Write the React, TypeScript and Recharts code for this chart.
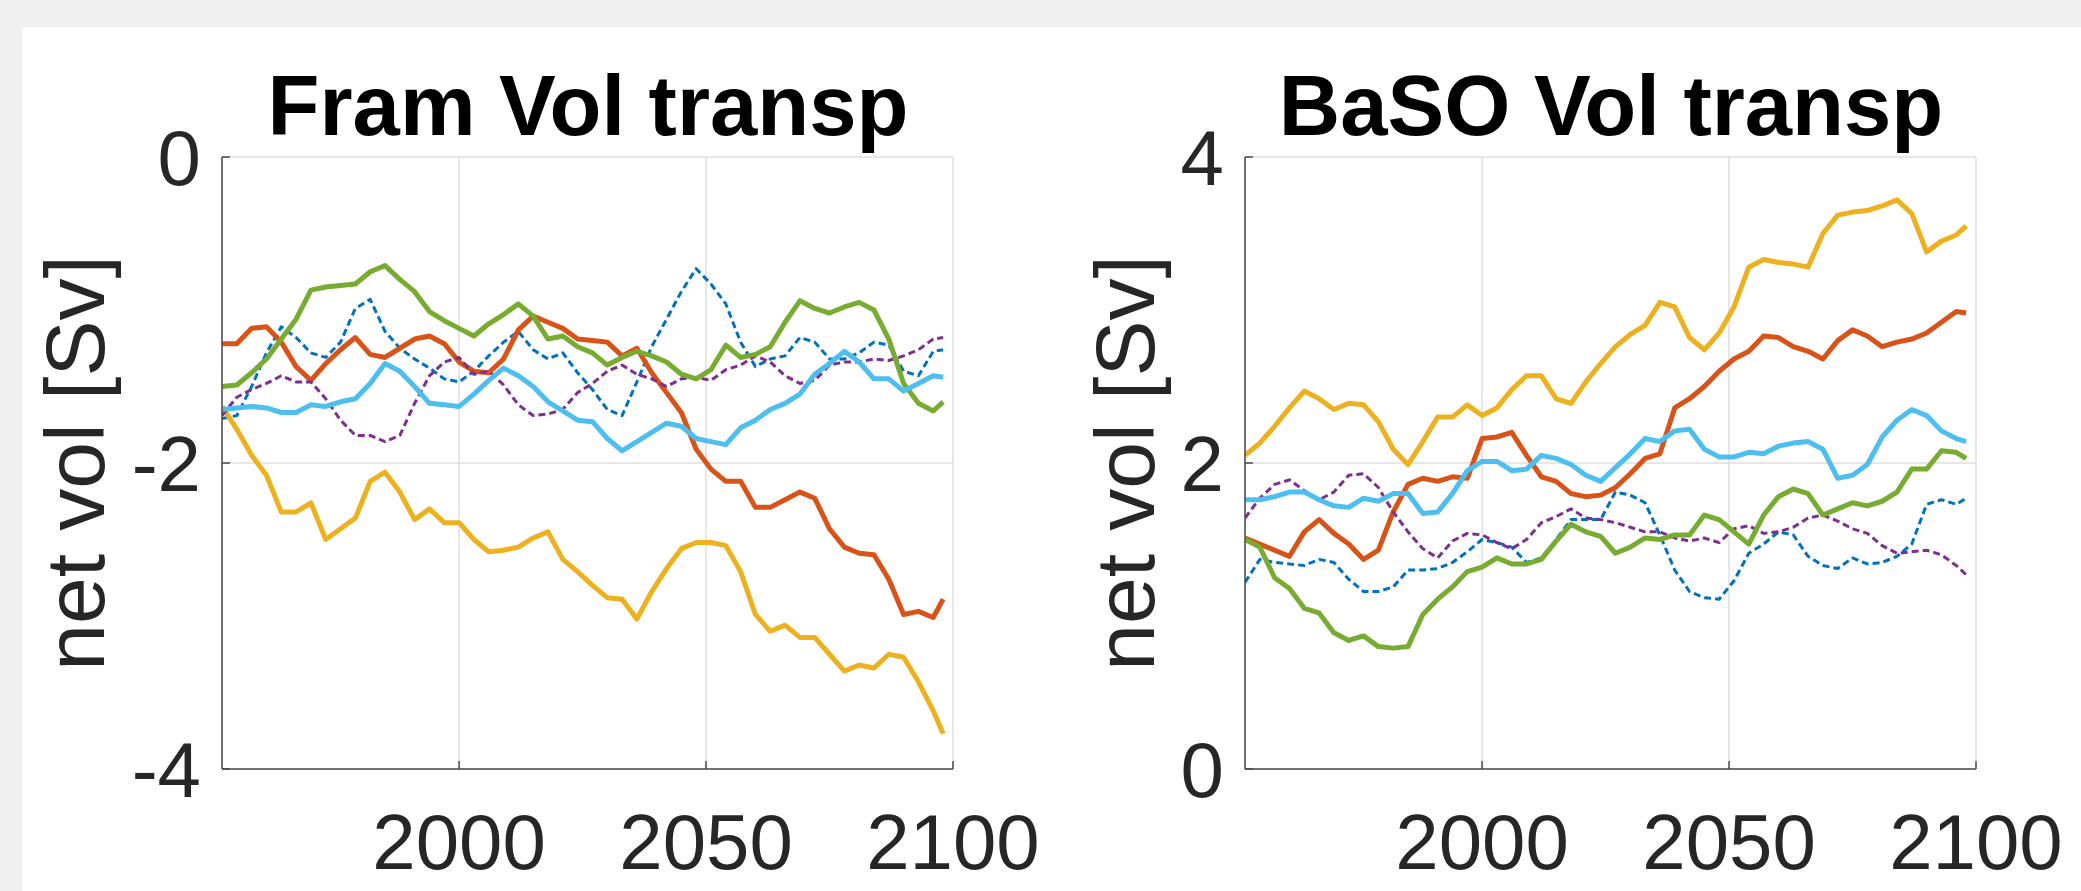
import { LineChart, Line, XAxis, YAxis, CartesianGrid } from "recharts"

// sample years (approx. every 3 years)
const years = [
  1952, 1955, 1958, 1961, 1964, 1967, 1970, 1973, 1976, 1979,
  1982, 1985, 1988, 1991, 1994, 1997, 2000, 2003, 2006, 2009,
  2012, 2015, 2018, 2021, 2024, 2027, 2030, 2033, 2036, 2039,
  2042, 2045, 2048, 2051, 2054, 2057, 2060, 2063, 2066, 2069,
  2072, 2075, 2078, 2081, 2084, 2087, 2090, 2093, 2096, 2098,
]

const yearTicks = [2000, 2050, 2100]
const framTicks = [-4, -2, 0]
const basoTicks = [0, 2, 4]

// Fram Strait net volume transport [Sv]
const framBlue = [
  -1.71, -1.69, -1.5, -1.28, -1.11, -1.18, -1.28, -1.31, -1.21, -0.99,
  -0.93, -1.14, -1.25, -1.32, -1.38, -1.45, -1.47, -1.4, -1.3, -1.21,
  -1.14, -1.26, -1.32, -1.28, -1.41, -1.52, -1.65, -1.69, -1.47, -1.24,
  -1.06, -0.88, -0.73, -0.83, -0.96, -1.21, -1.37, -1.32, -1.3, -1.18,
  -1.21, -1.32, -1.32, -1.28, -1.21, -1.23, -1.4, -1.43, -1.27, -1.26,
]
const framOrange = [
  -1.22, -1.22, -1.12, -1.11, -1.21, -1.37, -1.46, -1.35, -1.26, -1.18,
  -1.29, -1.31, -1.25, -1.19, -1.17, -1.22, -1.34, -1.4, -1.41, -1.32,
  -1.13, -1.04, -1.08, -1.12, -1.19, -1.2, -1.21, -1.3, -1.25, -1.41,
  -1.54, -1.67, -1.91, -2.04, -2.12, -2.12, -2.29, -2.29, -2.24, -2.19,
  -2.23, -2.43, -2.55, -2.59, -2.6, -2.76, -2.99, -2.97, -3.01, -2.89,
]
const framYellow = [
  -1.63, -1.78, -1.95, -2.08, -2.32, -2.32, -2.26, -2.5, -2.43, -2.36,
  -2.12, -2.06, -2.19, -2.37, -2.3, -2.39, -2.39, -2.5, -2.58, -2.57,
  -2.55, -2.49, -2.45, -2.63, -2.71, -2.8, -2.88, -2.89, -3.02, -2.84,
  -2.69, -2.56, -2.52, -2.52, -2.54, -2.71, -2.99, -3.1, -3.06, -3.14,
  -3.14, -3.25, -3.36, -3.32, -3.34, -3.25, -3.27, -3.43, -3.62, -3.77,
]
const framPurple = [
  -1.69, -1.57, -1.52, -1.48, -1.43, -1.47, -1.47, -1.58, -1.72, -1.82,
  -1.82, -1.86, -1.82, -1.61, -1.43, -1.34, -1.31, -1.42, -1.4, -1.49,
  -1.62, -1.69, -1.68, -1.65, -1.54, -1.48, -1.4, -1.36, -1.42, -1.45,
  -1.5, -1.45, -1.44, -1.46, -1.39, -1.36, -1.3, -1.34, -1.43, -1.48,
  -1.46, -1.36, -1.34, -1.34, -1.32, -1.33, -1.3, -1.26, -1.19, -1.18,
]
const framGreen = [
  -1.5, -1.49, -1.41, -1.32, -1.19, -1.06, -0.87, -0.85, -0.84, -0.83,
  -0.75, -0.71, -0.8, -0.88, -1.01, -1.07, -1.12, -1.17, -1.09, -1.03,
  -0.96, -1.04, -1.19, -1.17, -1.24, -1.28, -1.36, -1.31, -1.27, -1.3,
  -1.34, -1.42, -1.45, -1.39, -1.23, -1.31, -1.29, -1.24, -1.08, -0.94,
  -0.99, -1.02, -0.98, -0.95, -1.0, -1.19, -1.48, -1.61, -1.66, -1.6,
]
const framCyan = [
  -1.65, -1.64, -1.63, -1.64, -1.67, -1.67, -1.62, -1.63, -1.6, -1.58,
  -1.48, -1.35, -1.4, -1.5, -1.61, -1.62, -1.63, -1.55, -1.46, -1.38,
  -1.43, -1.5, -1.6, -1.66, -1.72, -1.73, -1.84, -1.92, -1.86, -1.8,
  -1.74, -1.76, -1.84, -1.86, -1.88, -1.77, -1.72, -1.65, -1.61, -1.55,
  -1.42, -1.35, -1.27, -1.34, -1.45, -1.45, -1.53, -1.48, -1.43, -1.44,
]

// Barents Sea Opening net volume transport [Sv]
const basoBlue = [
  1.22, 1.37, 1.35, 1.34, 1.33, 1.37, 1.35, 1.24, 1.16, 1.16,
  1.19, 1.3, 1.3, 1.31, 1.35, 1.42, 1.5, 1.48, 1.45, 1.35,
  1.38, 1.5, 1.63, 1.63, 1.63, 1.81, 1.79, 1.74, 1.53, 1.3,
  1.16, 1.12, 1.11, 1.23, 1.41, 1.47, 1.55, 1.53, 1.39, 1.33,
  1.31, 1.38, 1.34, 1.35, 1.39, 1.47, 1.73, 1.76, 1.73, 1.77,
]
const basoOrange = [
  1.51, 1.47, 1.43, 1.39, 1.55, 1.63, 1.54, 1.47, 1.37, 1.43,
  1.68, 1.86, 1.9, 1.88, 1.91, 1.9, 2.16, 2.17, 2.2, 2.05,
  1.91, 1.88, 1.8, 1.78, 1.79, 1.84, 1.93, 2.03, 2.06, 2.36,
  2.42, 2.5, 2.6, 2.68, 2.73, 2.83, 2.82, 2.76, 2.73, 2.68,
  2.8, 2.87, 2.83, 2.76, 2.79, 2.81, 2.85, 2.92, 2.99, 2.98,
]
const basoYellow = [
  2.05, 2.13, 2.24, 2.36, 2.47, 2.42, 2.35, 2.39, 2.38, 2.27,
  2.09, 1.99, 2.14, 2.3, 2.3, 2.38, 2.31, 2.36, 2.48, 2.57,
  2.57, 2.42, 2.39, 2.53, 2.65, 2.76, 2.84, 2.9, 3.05, 3.02,
  2.82, 2.74, 2.85, 3.02, 3.28, 3.33, 3.31, 3.3, 3.28, 3.5,
  3.62, 3.64, 3.65, 3.68, 3.72, 3.63, 3.38, 3.45, 3.49, 3.55,
]
const basoPurple = [
  1.64, 1.77, 1.86, 1.89, 1.82, 1.76, 1.81, 1.92, 1.93, 1.84,
  1.68, 1.55, 1.44, 1.38, 1.49, 1.54, 1.53, 1.48, 1.44, 1.5,
  1.61, 1.65, 1.7, 1.64, 1.63, 1.61, 1.58, 1.55, 1.55, 1.51,
  1.49, 1.51, 1.48, 1.57, 1.59, 1.54, 1.55, 1.58, 1.64, 1.66,
  1.62, 1.57, 1.54, 1.46, 1.41, 1.42, 1.43, 1.4, 1.33, 1.27,
]
const basoGreen = [
  1.5, 1.45, 1.25, 1.18, 1.05, 1.02, 0.89, 0.84, 0.87, 0.8,
  0.79, 0.8, 1.01, 1.11, 1.19, 1.29, 1.32, 1.38, 1.34, 1.34,
  1.37, 1.49, 1.6, 1.55, 1.52, 1.41, 1.45, 1.51, 1.5, 1.53,
  1.53, 1.66, 1.63, 1.55, 1.47, 1.66, 1.78, 1.83, 1.8, 1.66,
  1.7, 1.74, 1.72, 1.75, 1.81, 1.96, 1.96, 2.08, 2.07, 2.03,
]
const basoCyan = [
  1.76, 1.76, 1.78, 1.81, 1.81, 1.76, 1.72, 1.71, 1.77, 1.75,
  1.8, 1.8, 1.67, 1.68, 1.8, 1.95, 2.01, 2.01, 1.95, 1.96,
  2.05, 2.03, 1.99, 1.92, 1.88, 1.97, 2.06, 2.16, 2.14, 2.21,
  2.22, 2.09, 2.04, 2.04, 2.07, 2.06, 2.11, 2.13, 2.14, 2.09,
  1.9, 1.92, 1.99, 2.17, 2.28, 2.35, 2.31, 2.21, 2.16, 2.14,
]

// matlab default line colours
const BLUE = "#0072BD"
const ORANGE = "#D95319"
const YELLOW = "#EDB120"
const PURPLE = "#7E2F8E"
const GREEN = "#77AC30"
const CYAN = "#4DBEEE"

const AXIS = "#4a4a4a"
const TEXT = "#262626"
const GRID = "#dfdfdf"
const FONT = "'Liberation Sans', Arial, Helvetica, sans-serif"

type Series = { key: string; color: string; dashed: boolean; values: number[] }

const framSeries: Series[] = [
  { key: "blue", color: BLUE, dashed: true, values: framBlue },
  { key: "orange", color: ORANGE, dashed: false, values: framOrange },
  { key: "yellow", color: YELLOW, dashed: false, values: framYellow },
  { key: "purple", color: PURPLE, dashed: true, values: framPurple },
  { key: "green", color: GREEN, dashed: false, values: framGreen },
  { key: "cyan", color: CYAN, dashed: false, values: framCyan },
]

const basoSeries: Series[] = [
  { key: "blue", color: BLUE, dashed: true, values: basoBlue },
  { key: "orange", color: ORANGE, dashed: false, values: basoOrange },
  { key: "yellow", color: YELLOW, dashed: false, values: basoYellow },
  { key: "purple", color: PURPLE, dashed: true, values: basoPurple },
  { key: "green", color: GREEN, dashed: false, values: basoGreen },
  { key: "cyan", color: CYAN, dashed: false, values: basoCyan },
]

function buildRows(series: Series[]) {
  return years.map((year, i) => {
    const row: Record<string, number> = { year }
    series.forEach((s) => {
      row[s.key] = s.values[i]
    })
    return row
  })
}

// ticks point inward like matlab
function XTick(props: any) {
  const { x, y, payload } = props
  return (
    <g>
      <line x1={x} y1={y} x2={x} y2={y - 8} stroke={AXIS} strokeWidth={1.5} />
      <text x={x} y={y + 100} textAnchor="middle" fontSize={78} fontFamily={FONT} fill={TEXT}>
        {payload.value}
      </text>
    </g>
  )
}

function YTick(props: any) {
  const { x, y, payload } = props
  return (
    <g>
      <line x1={x} y1={y} x2={x + 8} y2={y} stroke={AXIS} strokeWidth={1.5} />
      <text x={x - 21} y={y + 28} textAnchor="end" fontSize={78} fontFamily={FONT} fill={TEXT}>
        {payload.value}
      </text>
    </g>
  )
}

function Panel({ left, series, domain, ticks }: { left: number; series: Series[]; domain: [number, number]; ticks: number[] }) {
  const data = buildRows(series)
  return (
    <div style={{ position: "absolute", left, top: 0 }}>
      <LineChart width={1100} height={891} data={data} margin={{ top: 157, right: 147, bottom: 62, left: 0 }}>
        <CartesianGrid stroke={GRID} strokeWidth={1.5} />
        <XAxis
          dataKey="year"
          type="number"
          domain={[1952, 2100]}
          ticks={yearTicks}
          interval={0}
          height={60}
          tickSize={0}
          tickMargin={0}
          tickLine={false}
          axisLine={{ stroke: AXIS, strokeWidth: 1.5 }}
          tick={<XTick />}
          allowDataOverflow
        />
        <YAxis
          type="number"
          domain={domain}
          ticks={ticks}
          interval={0}
          width={222}
          tickSize={0}
          tickMargin={0}
          tickLine={false}
          axisLine={{ stroke: AXIS, strokeWidth: 1.5 }}
          tick={<YTick />}
          allowDataOverflow
        />
        {series.map((s) => (
          <Line
            key={s.key}
            type="linear"
            dataKey={s.key}
            stroke={s.color}
            strokeWidth={s.dashed ? 3 : 5}
            strokeDasharray={s.dashed ? "7 4" : undefined}
            strokeLinejoin="round"
            dot={false}
            activeDot={false}
            isAnimationActive={false}
          />
        ))}
      </LineChart>
    </div>
  )
}

export default function App() {
  return (
    <div
      style={{
        position: "fixed",
        left: 0,
        top: 0,
        width: 2081,
        height: 891,
        background: "#f0f0f0",
        overflow: "hidden",
        fontFamily: FONT,
      }}
    >
      <div style={{ position: "absolute", left: 22, top: 27, right: 0, bottom: 0, background: "#fff" }} />
      <Panel left={0} series={framSeries} domain={[-4, 0]} ticks={framTicks} />
      <Panel left={1023} series={basoSeries} domain={[0, 4]} ticks={basoTicks} />
      <svg width={2081} height={891} style={{ position: "absolute", left: 0, top: 0, pointerEvents: "none" }}>
        <text x={588} y={135} textAnchor="middle" fontSize={85} fontWeight="bold" fontFamily={FONT} fill="#000">
          Fram Vol transp
        </text>
        <text x={1611} y={135} textAnchor="middle" fontSize={85} fontWeight="bold" fontFamily={FONT} fill="#000">
          BaSO Vol transp
        </text>
        <text transform="translate(104,463) rotate(-90)" textAnchor="middle" fontSize={84} fontFamily={FONT} fill={TEXT}>
          net vol [Sv]
        </text>
        <text transform="translate(1154,463) rotate(-90)" textAnchor="middle" fontSize={84} fontFamily={FONT} fill={TEXT}>
          net vol [Sv]
        </text>
      </svg>
    </div>
  )
}
